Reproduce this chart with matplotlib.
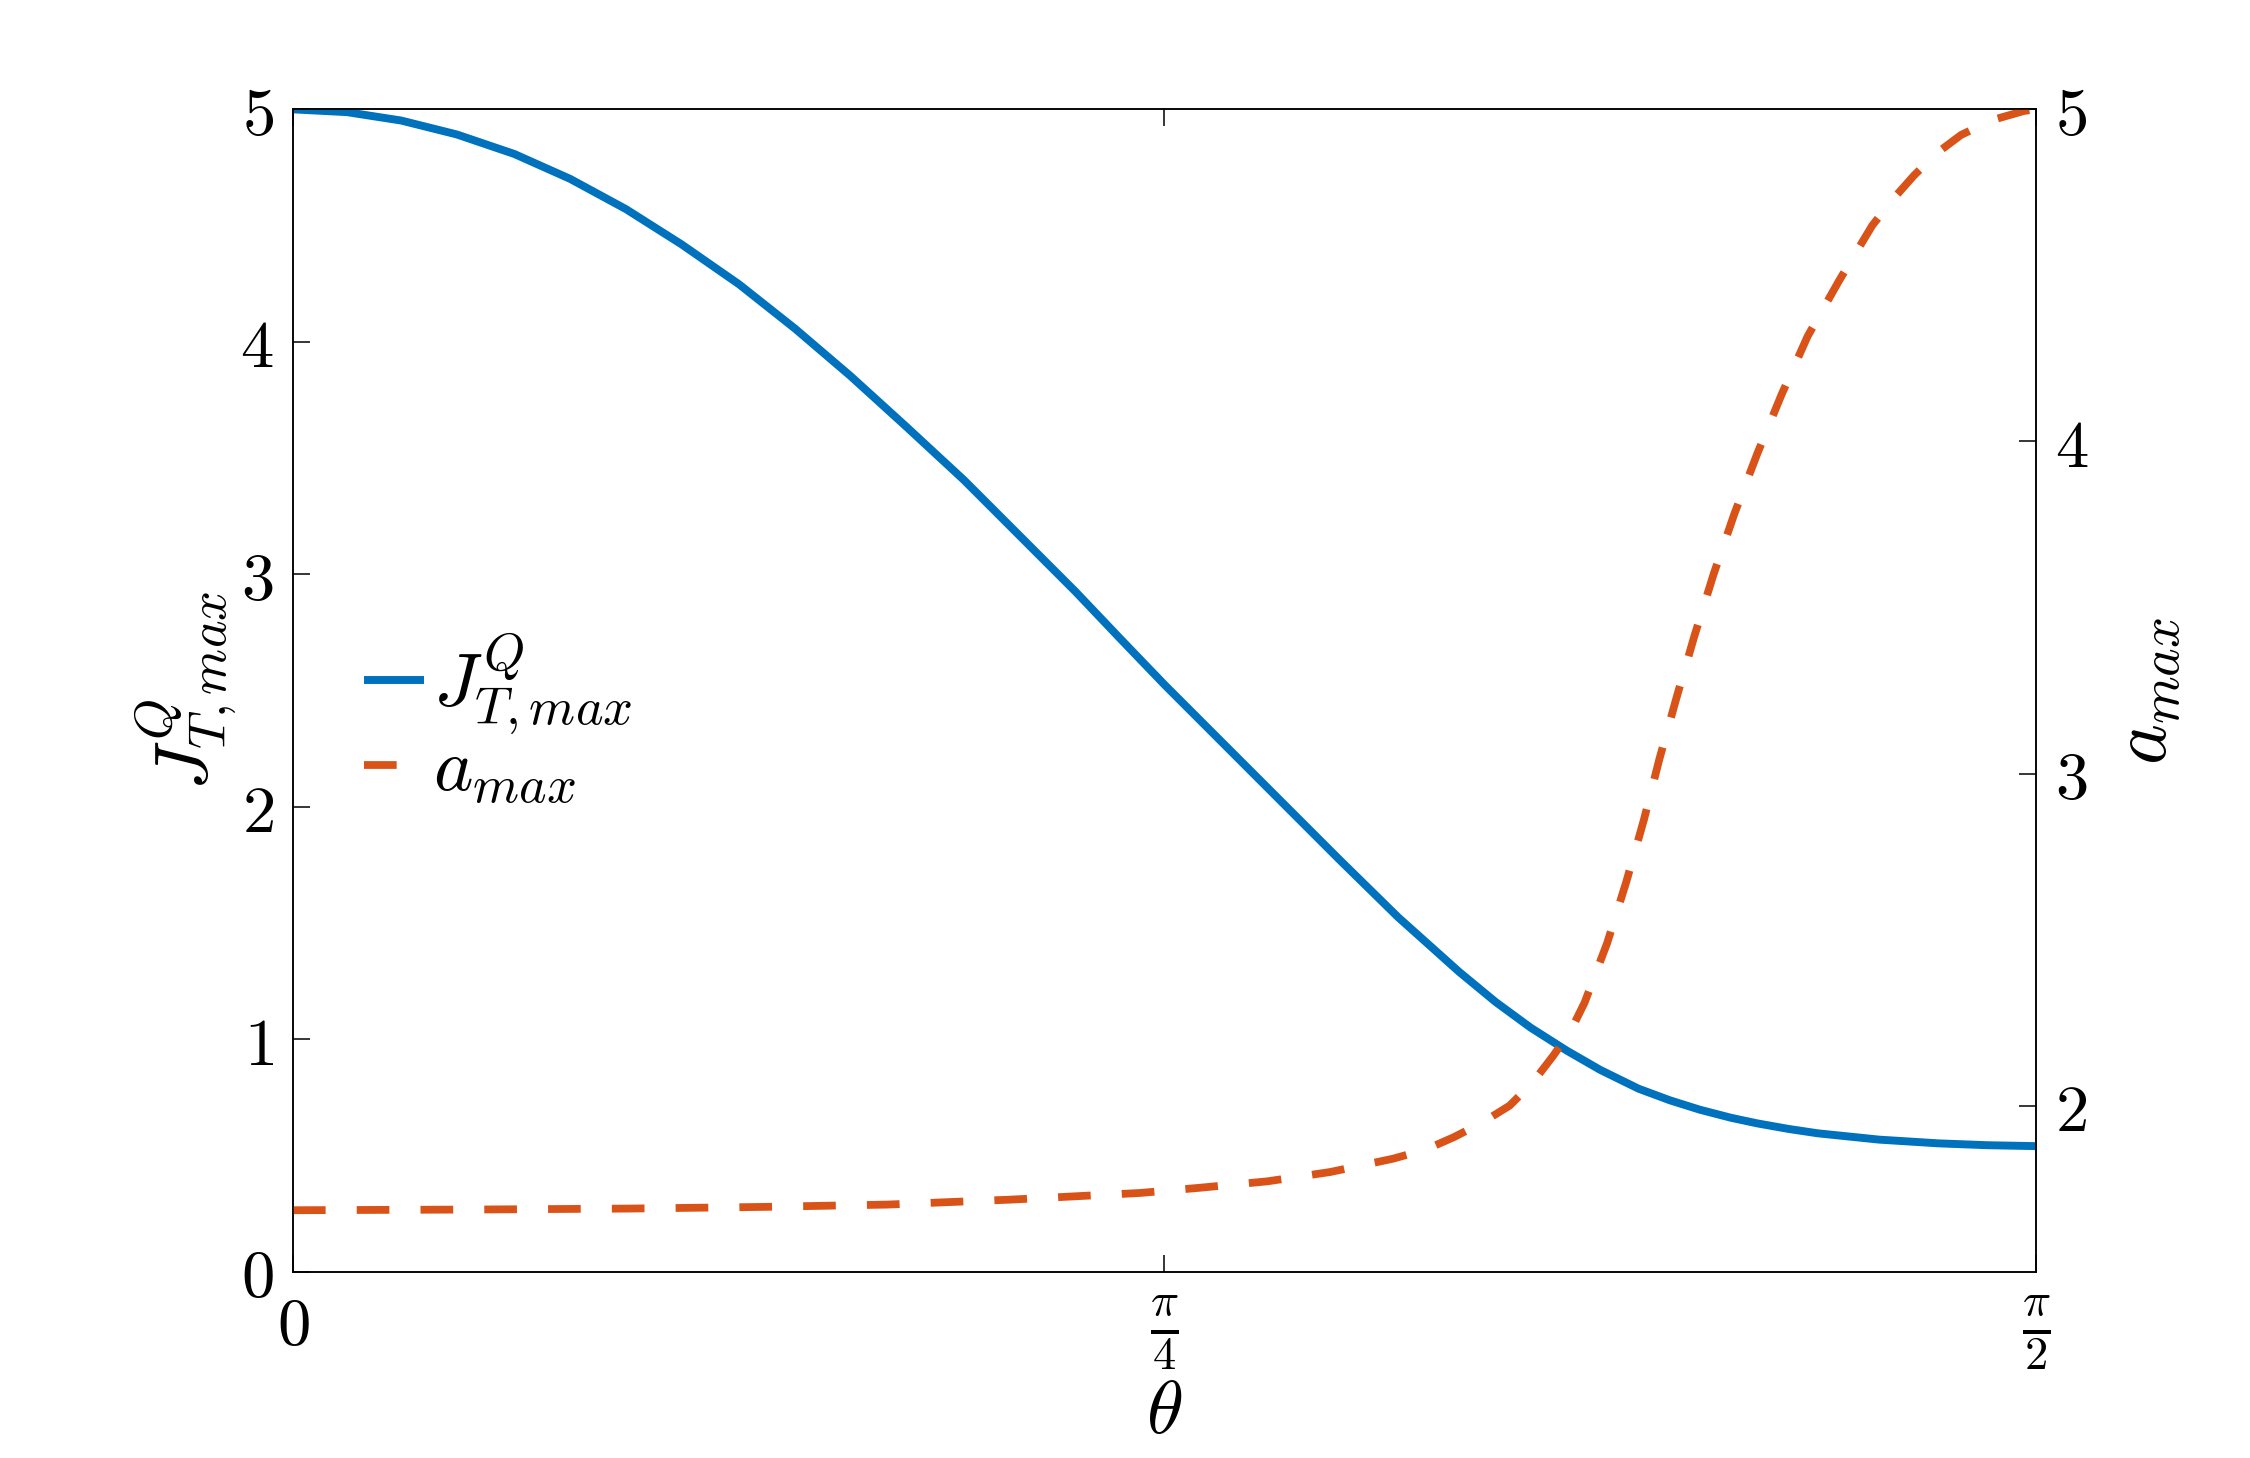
import numpy as np
import matplotlib
matplotlib.use("Agg")
import matplotlib.pyplot as plt

plt.rcParams['mathtext.fontset'] = 'cm'
plt.rcParams['font.family'] = ['DejaVu Serif']

# theta expressed as a fraction of pi/2
theta_J_frac = [0.000, 0.031, 0.062, 0.094, 0.127, 0.159, 0.191, 0.223, 0.256,
                0.288, 0.320, 0.352, 0.385, 0.417, 0.449, 0.475, 0.500, 0.532,
                0.566, 0.600, 0.634, 0.669, 0.690, 0.710, 0.731, 0.750, 0.772,
                0.790, 0.807, 0.825, 0.840, 0.858, 0.875, 0.910, 0.944, 0.972,
                1.000]
J_max = [5.000, 4.988, 4.952, 4.892, 4.808, 4.701, 4.571, 4.419, 4.247,
         4.057, 3.852, 3.634, 3.405, 3.165, 2.925, 2.720, 2.525, 2.285,
         2.030, 1.775, 1.525, 1.290, 1.160, 1.050, 0.950, 0.868, 0.787,
         0.737, 0.697, 0.662, 0.638, 0.614, 0.595, 0.568, 0.552, 0.544,
         0.540]

theta_a_frac = [0.000, 0.100, 0.193, 0.270, 0.341, 0.412, 0.486, 0.521, 0.559,
                0.595, 0.631, 0.650, 0.666, 0.682, 0.698, 0.711, 0.723, 0.733,
                0.741, 0.754, 0.765, 0.775, 0.784, 0.794, 0.804, 0.815, 0.827,
                0.840, 0.854, 0.869, 0.887, 0.906, 0.918, 0.930, 0.943, 0.957,
                0.975, 0.993, 1.000]
a_max = [1.685, 1.687, 1.690, 1.695, 1.702, 1.717, 1.737, 1.753, 1.772,
         1.800, 1.840, 1.868, 1.905, 1.948, 2.000, 2.068, 2.150, 2.225,
         2.310, 2.490, 2.675, 2.860, 3.045, 3.233, 3.414, 3.600, 3.783,
         3.962, 4.141, 4.317, 4.484, 4.650, 4.730, 4.801, 4.868, 4.923,
         4.968, 4.995, 5.000]

x_ticks_frac = [0.0, 0.5, 1.0]
x_tick_labels = [r'$0$', r'$\frac{\pi}{4}$', r'$\frac{\pi}{2}$']
left_ticks = [0, 1, 2, 3, 4, 5]
right_ticks = [2, 3, 4, 5]

blue = '#0072BD'
orange = '#D95319'

half_pi = np.pi / 2
thJ = np.array(theta_J_frac) * half_pi
tha = np.array(theta_a_frac) * half_pi

fig = plt.figure(figsize=(22.5, 14.58), dpi=100)
ax = fig.add_axes([0.1302, 0.1278, 0.9049 - 0.1302, 0.925 - 0.1278])
ax2 = ax.twinx()

l1, = ax.plot(thJ, J_max, color=blue, lw=5.7, solid_capstyle='butt',
              solid_joinstyle='round')
l2, = ax2.plot(tha, a_max, color=orange, lw=5.6, linestyle=(0, (4.2, 4.0)),
               dash_capstyle='butt', dash_joinstyle='round')

ax.set_xlim(0, half_pi)
ax.set_ylim(0, 5)
ax2.set_ylim(1.5, 5)

tick_fs = 48
ax.set_xticks(np.array(x_ticks_frac) * half_pi)
ax.set_xticklabels(x_tick_labels, fontsize=tick_fs)
ax.set_yticks(left_ticks)
ax.set_yticklabels([f'${v}$' for v in left_ticks], fontsize=tick_fs)
ax2.set_yticks(right_ticks)
ax2.set_yticklabels([f'${v}$' for v in right_ticks], fontsize=tick_fs)

ax.tick_params(axis='x', direction='in', length=12, width=1.1, top=True,
               bottom=True, pad=16)
ax.tick_params(axis='y', direction='in', length=12, width=1.1, left=True,
               right=False, pad=14)
ax2.tick_params(axis='y', direction='in', length=12, width=1.1, left=False,
                right=True, pad=14)
for a in (ax, ax2):
    for s in a.spines.values():
        s.set_linewidth(1.1)

ax.set_xlabel(r'$\theta$', fontsize=54)
ax.xaxis.set_label_coords(0.5, -0.090)
ax.set_ylabel(r'$J^{Q}_{T,max}$', fontsize=54)
ax.yaxis.set_label_coords(-0.031, 0.5)
ax2.set_ylabel(r'$a_{max}$', fontsize=56)
ax2.yaxis.set_label_coords(1.041, 0.5)

leg = ax2.legend([l1, l2], [r'$J^{Q}_{T,max}$', r'$a_{max}$'],
                 loc='center left', bbox_to_anchor=(0.002, 0.475),
                 frameon=False, fontsize=54, handlelength=0.8,
                 handletextpad=0.12, labelspacing=-0.03)

fig.savefig('out.png', dpi=100)
